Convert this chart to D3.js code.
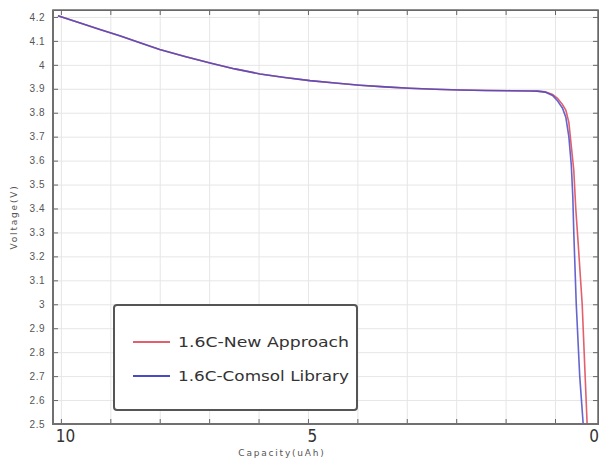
<!DOCTYPE html>
<html>
<head>
<meta charset="utf-8">
<script src="https://cdn.jsdelivr.net/npm/d3@7"></script>
<style>
  body { margin: 0; background: #fff; }
  svg { display: block; font-family: "DejaVu Sans", sans-serif; }
</style>
</head>
<body>
<div id="viz"></div>
<script>
// capacity (uAh) / voltage (V)
const newCapacity = [10.06, 9.61, 9.21, 8.81, 8.4, 8.0, 7.49, 6.98, 6.48, 5.97, 5.47, 4.96, 4.45, 3.95, 3.44, 2.94, 2.43, 1.92, 1.4, 0.91, 0.5, 0.36,
                     0.2, 0.05, -0.05, -0.15, -0.22, -0.28, -0.33, -0.38, -0.42, -0.47, -0.55, -0.61, -0.65];
const newVoltage = [4.205, 4.175, 4.148, 4.121, 4.092, 4.064, 4.035, 4.008, 3.983, 3.962, 3.947, 3.934, 3.924, 3.915, 3.908, 3.902, 3.898, 3.895, 3.893, 3.892, 3.891, 3.89,
                    3.887, 3.876, 3.86, 3.835, 3.81, 3.76, 3.66, 3.56, 3.40, 3.25, 3.0, 2.7, 2.5];
const comsolCapacity = [10.06, 9.61, 9.21, 8.81, 8.4, 8.0, 7.49, 6.98, 6.48, 5.97, 5.47, 4.96, 4.45, 3.95, 3.44, 2.94, 2.43, 1.92, 1.4, 0.91, 0.5, 0.36,
                        0.2, 0.05, -0.05, -0.15, -0.22, -0.28, -0.33, -0.36, -0.38, -0.43, -0.5, -0.57];
const comsolVoltage = [4.205, 4.175, 4.148, 4.121, 4.092, 4.064, 4.035, 4.008, 3.983, 3.962, 3.947, 3.934, 3.924, 3.915, 3.908, 3.902, 3.898, 3.895, 3.893, 3.892, 3.891, 3.89,
                       3.886, 3.872, 3.85, 3.82, 3.78, 3.70, 3.58, 3.45, 3.30, 3.0, 2.7, 2.5];

const seriesNames = ['1.6C-New Approach', '1.6C-Comsol Library'];
const seriesColors = ['#e2606e', '#4a4ac4'];

const xTicks = [10, 9, 8, 7, 6, 5, 4, 3, 2, 1, 0];
const xLabeled = [10, 5];
const xEndLabel = '0';
const yTicks = [2.5, 2.6, 2.7, 2.8, 2.9, 3, 3.1, 3.2, 3.3, 3.4, 3.5, 3.6, 3.7, 3.8, 3.9, 4, 4.1, 4.2];

const width = 599, height = 461;
const plotLeft = 53, plotRight = 598, plotTop = 10, plotBottom = 424;

const svg = d3.select('#viz').append('svg')
    .attr('width', width)
    .attr('height', height);

const x = d3.scaleLinear().domain([10.16, -0.87]).range([plotLeft, plotRight]);
const y = d3.scaleLinear().domain([2.5, 4.229]).range([plotBottom, plotTop]);

// grid
svg.append('g')
   .attr('class', 'grid')
   .attr('transform', 'translate(0,' + plotBottom + ')')
   .call(d3.axisBottom(x).tickValues(xTicks).tickSize(-(plotBottom - plotTop)).tickFormat(''))
   .call(g => g.select('.domain').remove())
   .call(g => g.selectAll('line').attr('stroke', '#e6e6e6'));
svg.append('g')
   .attr('class', 'grid')
   .attr('transform', 'translate(' + plotLeft + ',0)')
   .call(d3.axisLeft(y).tickValues(yTicks).tickSize(-(plotRight - plotLeft)).tickFormat(''))
   .call(g => g.select('.domain').remove())
   .call(g => g.selectAll('line').attr('stroke', '#e6e6e6'));

// curves
svg.append('clipPath').attr('id', 'plot-clip')
   .append('rect').attr('x', plotLeft).attr('y', plotTop)
   .attr('width', plotRight - plotLeft).attr('height', plotBottom - plotTop);

const line = d3.line().x(d => x(d[0])).y(d => y(d[1]));
const series = [
    d3.zip(newCapacity, newVoltage),
    d3.zip(comsolCapacity, comsolVoltage)
];
svg.append('g').attr('clip-path', 'url(#plot-clip)')
   .selectAll('path')
   .data(series)
   .enter()
   .append('path')
   .attr('d', line)
   .attr('fill', 'none')
   .attr('stroke', (d, i) => seriesColors[i])
   .attr('stroke-width', 1.6)
   .attr('stroke-opacity', (d, i) => i === 1 ? 0.85 : 1);

// axes with inward ticks
const tickColor = '#666';
const narrowFont = '"Liberation Sans Narrow", "DejaVu Sans Condensed", sans-serif';
const xAxis = svg.append('g')
   .attr('class', 'axis')
   .attr('transform', 'translate(0,' + plotBottom + ')')
   .call(d3.axisBottom(x).tickValues(xTicks).tickSize(-5).tickPadding(6)
           .tickFormat(d => xLabeled.includes(d) ? d : ''));
xAxis.selectAll('text')
     .attr('dx', 4)
     .style('font-family', narrowFont)
     .style('font-size', '17px')
     .attr('fill', '#333');
xAxis.append('text')
     .attr('x', plotRight - 4)
     .attr('y', 18)
     .attr('text-anchor', 'middle')
     .style('font-family', narrowFont)
     .style('font-size', '17px')
     .attr('fill', '#333')
     .text(xEndLabel);

svg.append('g')
   .attr('class', 'axis')
   .attr('transform', 'translate(0,' + plotTop + ')')
   .call(d3.axisTop(x).tickValues(xTicks).tickSize(-5).tickFormat(''));

const yAxis = svg.append('g')
   .attr('class', 'axis')
   .attr('transform', 'translate(' + plotLeft + ',0)')
   .call(d3.axisLeft(y).tickValues(yTicks).tickSize(-5).tickPadding(8).tickFormat(d => d3.format('')(d)));
yAxis.selectAll('text')
     .style('font-size', '10px')
     .attr('fill', '#555')
     .attr('letter-spacing', '0.5px');

svg.append('g')
   .attr('class', 'axis')
   .attr('transform', 'translate(' + plotRight + ',0)')
   .call(d3.axisRight(y).tickValues(yTicks).tickSize(-5).tickFormat(''));

svg.selectAll('.axis .domain').attr('stroke', tickColor);
svg.selectAll('.axis .tick line').attr('stroke', tickColor);

// frame
svg.append('rect')
   .attr('x', plotLeft).attr('y', plotTop)
   .attr('width', plotRight - plotLeft).attr('height', plotBottom - plotTop)
   .attr('fill', 'none')
   .attr('stroke', '#6a6a6a')
   .attr('stroke-width', 1.5);
svg.append('path')
   .attr('d', 'M' + plotLeft + ',' + plotTop + 'V' + plotBottom + 'H' + plotRight)
   .attr('fill', 'none')
   .attr('stroke', '#707070')
   .attr('stroke-width', 2);

// axis titles
svg.append('text')
   .attr('x', 282)
   .attr('y', 456)
   .attr('text-anchor', 'middle')
   .style('font-size', '9px')
   .attr('letter-spacing', '1.8px')
   .attr('fill', '#555')
   .text('Capacity(uAh)');
svg.append('text')
   .attr('transform', 'translate(17,217) rotate(-90)')
   .attr('text-anchor', 'middle')
   .style('font-size', '9px')
   .attr('letter-spacing', '1.8px')
   .attr('fill', '#555')
   .text('Voltage(V)');

// legend
const legend = svg.append('g');
legend.append('rect')
      .attr('x', 114).attr('y', 305)
      .attr('width', 243).attr('height', 105)
      .attr('rx', 3)
      .attr('fill', '#fff')
      .attr('stroke', '#555')
      .attr('stroke-width', 2);
const item = legend.selectAll('g.item')
      .data(seriesNames)
      .enter()
      .append('g')
      .attr('class', 'item')
      .attr('transform', (d, i) => 'translate(0,' + (342 + i * 34) + ')');
item.append('line')
    .attr('x1', 133).attr('x2', 170)
    .attr('stroke', (d, i) => seriesColors[i])
    .attr('stroke-width', 2);
item.append('text')
    .attr('x', 178)
    .attr('y', 5)
    .style('font-size', '14px')
    .attr('fill', '#333')
    .attr('textLength', 171)
    .attr('lengthAdjust', 'spacingAndGlyphs')
    .text(d => d);
</script>
</body>
</html>
